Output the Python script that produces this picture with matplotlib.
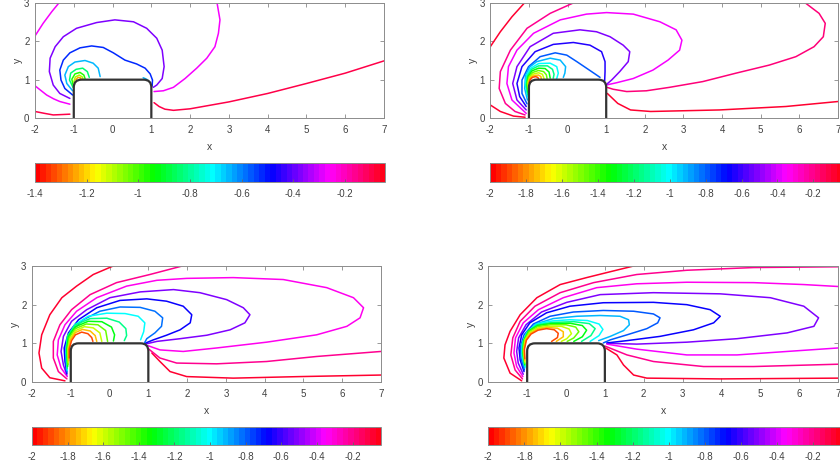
import numpy as np
import matplotlib
matplotlib.use('Agg')
import matplotlib.pyplot as plt
from matplotlib.path import Path
from matplotlib.patches import PathPatch
from matplotlib.colors import Normalize
from matplotlib.cm import ScalarMappable

plt.rcParams['font.family'] = ['Liberation Sans', 'DejaVu Sans']
plt.rcParams['axes.unicode_minus'] = False

# colour range of each snapshot
c_min = [-1.4, -2.0, -2.0, -2.0]
c_max = [-0.045, -0.04, -0.04, -0.04]
cbar_ticks_small = [-1.4, -1.2, -1.0, -0.8, -0.6, -0.4, -0.2]
cbar_ticks_big = [-2.0, -1.8, -1.6, -1.4, -1.2, -1.0, -0.8, -0.6, -0.4, -0.2]

x_ticks = [-2, -1, 0, 1, 2, 3, 4, 5, 6, 7]
y_ticks = [0, 1, 2, 3]

# the block: x from -1 to 1, height 1, rounded top corners
body_half = 1.0
body_top = 1.0
body_r = 0.2

# ---- snapshot 1 (top left), contour levels and traced lines ----
p1_levels = [-0.1, -0.1, -0.26, -0.26, -0.26, -0.38, -0.52, -0.65, -0.65,
             -0.83, -0.96, -1.1, -1.25]
p1_lines = [
    [(-2.0, 0.17), (-1.75, 0.12), (-1.53, 0.08), (-1.3, 0.09), (-1.1, 0.1)],
    [(1.07, 0.4), (1.2, 0.3), (1.35, 0.23), (1.57, 0.2), (2.0, 0.24), (3.0, 0.42),
     (4.0, 0.64), (5.0, 0.9), (6.0, 1.17), (7.0, 1.49)],
    [(-2.0, 2.14), (-1.79, 2.47), (-1.57, 2.77), (-1.36, 3.03)],
    [(-2.0, 0.84), (-1.85, 0.72), (-1.7, 0.6), (-1.52, 0.5), (-1.36, 0.43), (-1.1, 0.36)],
    [(2.69, 3.03), (2.77, 2.56), (2.73, 2.21), (2.64, 1.86), (2.43, 1.56), (2.17, 1.3),
     (1.87, 1.03), (1.57, 0.8), (1.31, 0.71), (1.07, 0.69)],
    [(-1.1, 0.51), (-1.36, 0.64), (-1.53, 0.86), (-1.63, 1.21), (-1.61, 1.56), (-1.48, 1.86),
     (-1.27, 2.12), (-0.93, 2.34), (-0.41, 2.49), (0.06, 2.56), (0.54, 2.51), (0.88, 2.34),
     (1.14, 2.08), (1.28, 1.77), (1.33, 1.34), (1.28, 1.03), (1.14, 0.86), (1.05, 0.8)],
    [(-1.03, 0.6), (-1.23, 0.77), (-1.33, 0.99), (-1.36, 1.25), (-1.27, 1.51), (-1.1, 1.7),
     (-0.84, 1.83), (-0.54, 1.88), (-0.24, 1.84), (0.02, 1.7), (0.32, 1.51), (0.62, 1.41),
     (0.84, 1.3), (0.97, 1.15), (1.03, 0.99), (1.02, 0.83)],
    [(-1.03, 0.71), (-1.18, 0.9), (-1.23, 1.12), (-1.14, 1.34), (-0.97, 1.46), (-0.71, 1.5),
     (-0.5, 1.43), (-0.37, 1.3), (-0.32, 1.08)],
    [(0.79, 1.05), (0.88, 1.01), (0.96, 0.93)],
    [(-1.02, 0.8), (-1.11, 0.99), (-1.08, 1.17), (-0.94, 1.27), (-0.77, 1.3), (-0.65, 1.21),
     (-0.6, 1.06)],
    [(-1.02, 0.87), (-1.05, 1.01), (-0.97, 1.15), (-0.84, 1.19), (-0.74, 1.12), (-0.71, 1.03)],
    [(-1.0, 0.94), (-0.96, 1.07), (-0.86, 1.12), (-0.78, 1.07), (-0.76, 1.01)],
    [(-0.95, 1.0), (-0.89, 1.06), (-0.83, 1.05), (-0.81, 1.01)],
]

# ---- snapshot 2 (top right) ----
p2_levels = [-0.08, -0.08, -0.2, -0.35, -0.5, -0.64, -0.78, -0.9, -1.0,
             -1.15, -1.3, -1.45, -1.6, -1.75, -1.9, -0.17, -0.08]
p2_lines = [
    [(-2.0, 1.86), (-1.74, 2.25), (-1.44, 2.64), (-1.1, 3.02)],
    [(-2.0, 0.34), (-1.74, 0.17), (-1.4, 0.05), (-1.1, 0.02)],
    [(0.19, 3.02), (-0.45, 2.73), (-1.05, 2.34), (-1.48, 1.77), (-1.74, 1.21), (-1.77, 0.77),
     (-1.61, 0.38), (-1.36, 0.17), (-1.1, 0.08)],
    [(-1.07, 0.12), (-1.44, 0.47), (-1.57, 0.9), (-1.53, 1.34), (-1.31, 1.77), (-0.88, 2.21),
     (-0.19, 2.56), (0.49, 2.71), (1.01, 2.75), (1.7, 2.71), (2.39, 2.51), (2.81, 2.3),
     (2.96, 2.03), (2.9, 1.77), (2.6, 1.51), (2.21, 1.25), (1.7, 1.03), (1.27, 0.92),
     (1.0, 0.86)],
    [(-1.07, 0.21), (-1.31, 0.47), (-1.42, 0.9), (-1.31, 1.34), (-0.97, 1.86), (-0.37, 2.21),
     (0.32, 2.3), (0.75, 2.25), (1.1, 2.12), (1.44, 1.9), (1.61, 1.73), (1.57, 1.47),
     (1.35, 1.21), (1.14, 0.99), (1.0, 0.87)],
    [(-1.07, 0.3), (-1.24, 0.56), (-1.31, 0.9), (-1.18, 1.34), (-0.84, 1.73), (-0.37, 1.92),
     (0.15, 1.97), (0.58, 1.9), (0.88, 1.73), (0.97, 1.47), (0.97, 1.21), (0.96, 0.97)],
    [(-1.05, 0.37), (-1.18, 0.64), (-1.18, 0.99), (-1.01, 1.34), (-0.71, 1.6), (-0.32, 1.7),
     (-0.02, 1.64), (0.24, 1.47), (0.49, 1.3), (0.71, 1.15), (0.84, 1.06)],
    [(-1.04, 0.47), (-1.11, 0.77), (-1.09, 1.1), (-0.98, 1.33), (-0.8, 1.47), (-0.45, 1.56),
     (-0.19, 1.51), (-0.05, 1.34), (-0.07, 1.17), (-0.11, 1.06)],
    [(-1.03, 0.56), (-1.09, 0.86), (-1.06, 1.12), (-0.95, 1.3), (-0.75, 1.42), (-0.45, 1.43),
     (-0.28, 1.34), (-0.24, 1.17), (-0.28, 1.03)],
    [(-1.03, 0.61), (-1.07, 0.86), (-1.04, 1.1), (-0.93, 1.27), (-0.75, 1.36), (-0.52, 1.36),
     (-0.39, 1.27), (-0.35, 1.14), (-0.37, 1.04)],
    [(-1.02, 0.67), (-1.05, 0.88), (-1.02, 1.08), (-0.92, 1.23), (-0.75, 1.3), (-0.58, 1.29),
     (-0.48, 1.2), (-0.45, 1.04)],
    [(-1.02, 0.73), (-1.04, 0.9), (-1.0, 1.07), (-0.9, 1.19), (-0.75, 1.24), (-0.62, 1.21),
     (-0.55, 1.13), (-0.53, 1.03)],
    [(-1.01, 0.79), (-1.02, 0.93), (-0.98, 1.06), (-0.88, 1.15), (-0.75, 1.18), (-0.65, 1.14),
     (-0.61, 1.03)],
    [(-1.01, 0.85), (-1.0, 0.97), (-0.95, 1.06), (-0.86, 1.11), (-0.75, 1.12), (-0.69, 1.08),
     (-0.68, 1.02)],
    [(-0.99, 0.92), (-0.97, 1.0), (-0.91, 1.06), (-0.83, 1.08), (-0.77, 1.06), (-0.75, 1.02)],
    [(6.13, 3.02), (6.51, 2.73), (6.67, 2.47), (6.62, 2.12), (6.38, 1.86), (5.91, 1.6),
     (5.22, 1.38), (4.36, 1.17), (3.5, 0.95), (2.64, 0.8), (2.04, 0.71), (1.53, 0.69),
     (1.18, 0.75), (1.02, 0.8)],
    [(1.03, 0.64), (1.3, 0.38), (1.63, 0.21), (2.15, 0.17), (3.93, 0.21), (5.65, 0.3),
     (7.0, 0.43)],
]

# ---- snapshot 3 (bottom left) ----
p3_levels = [-0.08, -0.2, -0.33, -0.5, -0.67, -0.83, -1.0, -1.15, -1.3,
             -1.45, -1.6, -1.75, -1.9, -0.08, -0.2]
p3_lines = [
    [(-1.15, 0.03), (-1.54, 0.11), (-1.75, 0.36), (-1.82, 0.75), (-1.75, 1.22), (-1.54, 1.74),
     (-1.23, 2.18), (-0.85, 2.48), (-0.42, 2.78), (0.14, 3.02)],
    [(-1.1, 0.08), (-1.32, 0.27), (-1.45, 0.62), (-1.45, 1.05), (-1.28, 1.48), (-0.98, 1.87),
     (-0.5, 2.26), (0.18, 2.57), (1.04, 2.78), (1.95, 3.02)],
    [(-1.09, 0.14), (-1.25, 0.36), (-1.35, 0.7), (-1.32, 1.09), (-1.15, 1.48), (-0.85, 1.83),
     (-0.33, 2.18), (0.44, 2.48), (1.22, 2.63), (1.99, 2.68), (3.19, 2.7), (4.48, 2.65),
     (5.6, 2.44), (6.29, 2.18), (6.55, 1.92), (6.46, 1.66), (6.12, 1.44), (5.34, 1.22),
     (4.05, 1.03), (2.76, 0.88), (1.9, 0.79), (1.3, 0.83), (0.99, 0.94)],
    [(-1.1, 0.18), (-1.19, 0.44), (-1.25, 0.79), (-1.19, 1.18), (-0.98, 1.57), (-0.59, 1.87),
     (0.01, 2.18), (0.79, 2.33), (1.65, 2.39), (2.33, 2.31), (3.02, 2.13), (3.45, 1.92),
     (3.62, 1.74), (3.49, 1.53), (3.11, 1.35), (2.51, 1.21), (1.82, 1.12), (1.22, 1.05),
     (0.92, 0.98)],
    [(-1.1, 0.22), (-1.15, 0.53), (-1.17, 0.88), (-1.06, 1.27), (-0.8, 1.61), (-0.33, 1.92),
     (0.27, 2.11), (0.96, 2.15), (1.47, 2.09), (1.9, 1.96), (2.12, 1.74), (2.08, 1.53),
     (1.82, 1.35), (1.47, 1.21), (1.13, 1.09), (0.91, 1.0)],
    [(-1.1, 0.26), (-1.13, 0.62), (-1.12, 0.96), (-0.98, 1.31), (-0.68, 1.61), (-0.25, 1.83),
     (0.27, 1.94), (0.79, 1.93), (1.17, 1.83), (1.37, 1.66), (1.34, 1.44), (1.17, 1.27),
     (0.96, 1.12), (0.9, 1.01)],
    [(-1.09, 0.3), (-1.12, 0.75), (-1.09, 1.15), (-0.9, 1.48), (-0.55, 1.7), (-0.07, 1.78),
     (0.4, 1.77), (0.74, 1.7), (0.91, 1.53), (0.88, 1.3), (0.8, 1.09)],
    [(-1.09, 0.35), (-1.11, 0.8), (-1.08, 1.2), (-0.88, 1.48), (-0.5, 1.64), (-0.07, 1.65),
     (0.25, 1.55), (0.42, 1.38), (0.44, 1.2), (0.38, 1.07)],
    [(-1.08, 0.4), (-1.1, 0.85), (-1.06, 1.18), (-0.88, 1.43), (-0.55, 1.57), (-0.2, 1.56),
     (0.05, 1.42), (0.13, 1.22), (0.1, 1.06)],
    [(-1.07, 0.45), (-1.08, 0.85), (-1.04, 1.15), (-0.88, 1.38), (-0.6, 1.5), (-0.3, 1.48),
     (-0.1, 1.33), (-0.05, 1.05)],
    [(-1.06, 0.5), (-1.07, 0.85), (-1.02, 1.12), (-0.88, 1.33), (-0.65, 1.43), (-0.42, 1.4),
     (-0.25, 1.27), (-0.2, 1.05)],
    [(-1.05, 0.55), (-1.06, 0.85), (-1.0, 1.1), (-0.88, 1.28), (-0.7, 1.36), (-0.5, 1.32),
     (-0.37, 1.2), (-0.33, 1.05)],
    [(-1.04, 0.62), (-1.04, 0.85), (-0.98, 1.07), (-0.88, 1.22), (-0.72, 1.29), (-0.56, 1.25),
     (-0.46, 1.15), (-0.43, 1.05)],
    [(1.09, 0.75), (1.3, 0.53), (1.56, 0.27), (1.99, 0.14), (3.19, 0.1), (4.91, 0.14),
     (7.0, 0.18)],
    [(1.0, 0.86), (1.3, 0.62), (1.73, 0.49), (2.76, 0.47), (4.05, 0.53), (5.34, 0.66),
     (7.0, 0.79)],
]

# ---- snapshot 4 (bottom right) ----
p4_levels = [-0.08, -0.2, -0.33, -0.52, -0.66, -0.78, -0.9, -1.02, -1.15,
             -1.3, -1.45, -1.6, -1.75, -1.9, -0.36, -0.2, -0.08]
p4_lines = [
    [(-1.14, 0.03), (-1.44, 0.23), (-1.6, 0.62), (-1.57, 0.96), (-1.44, 1.31), (-1.18, 1.74),
     (-0.75, 2.18), (-0.15, 2.52), (0.53, 2.7), (1.05, 2.83), (1.82, 3.02)],
    [(-1.12, 0.08), (-1.31, 0.31), (-1.42, 0.7), (-1.37, 1.14), (-1.18, 1.57), (-0.8, 1.96),
     (-0.15, 2.31), (0.71, 2.57), (1.82, 2.78), (3.11, 2.89), (4.83, 2.96), (7.0, 2.98)],
    [(-1.11, 0.14), (-1.27, 0.4), (-1.34, 0.75), (-1.3, 1.14), (-1.1, 1.53), (-0.71, 1.87),
     (-0.07, 2.18), (0.79, 2.44), (1.82, 2.54), (3.11, 2.58), (4.83, 2.57), (6.12, 2.52),
     (7.0, 2.47)],
    [(-1.1, 0.2), (-1.23, 0.49), (-1.27, 0.79), (-1.22, 1.14), (-1.03, 1.48), (-0.63, 1.81),
     (0.02, 2.06), (0.88, 2.26), (2.25, 2.31), (3.97, 2.28), (5.26, 2.18), (6.12, 1.96),
     (6.5, 1.66), (6.38, 1.44), (5.69, 1.27), (4.4, 1.12), (3.11, 1.03), (1.82, 0.98),
     (1.05, 1.0)],
    [(-1.08, 0.27), (-1.18, 0.57), (-1.21, 0.88), (-1.14, 1.22), (-0.93, 1.53), (-0.5, 1.79),
     (0.1, 1.96), (0.96, 2.05), (2.25, 2.06), (3.11, 2.0), (3.71, 1.87), (3.97, 1.7),
     (3.8, 1.53), (3.28, 1.35), (2.42, 1.18), (1.57, 1.07), (1.05, 1.01)],
    [(-1.07, 0.31), (-1.16, 0.62), (-1.17, 0.92), (-1.08, 1.22), (-0.84, 1.5), (-0.41, 1.7),
     (0.19, 1.81), (0.96, 1.85), (1.74, 1.83), (2.25, 1.76), (2.42, 1.66), (2.36, 1.53),
     (2.08, 1.38), (1.57, 1.22), (1.14, 1.09), (0.96, 1.01)],
    [(-1.06, 0.36), (-1.14, 0.66), (-1.14, 0.96), (-1.03, 1.24), (-0.78, 1.5), (-0.33, 1.64),
     (0.28, 1.7), (0.88, 1.72), (1.39, 1.7), (1.61, 1.61), (1.63, 1.48), (1.48, 1.33),
     (1.14, 1.18), (0.84, 1.07)],
    [(-1.05, 0.39), (-1.13, 0.7), (-1.12, 1.01), (-1.0, 1.29), (-0.75, 1.5), (-0.35, 1.58),
     (0.1, 1.61), (0.55, 1.59), (0.85, 1.5), (0.95, 1.36), (0.85, 1.2), (0.62, 1.05)],
    [(-1.06, 0.42), (-1.12, 0.73), (-1.1, 1.04), (-0.98, 1.31), (-0.74, 1.48), (-0.36, 1.54),
     (0.2, 1.56), (0.6, 1.51), (0.75, 1.38), (0.64, 1.2), (0.4, 1.05)],
    [(-1.06, 0.45), (-1.11, 0.76), (-1.09, 1.07), (-0.96, 1.32), (-0.73, 1.46), (-0.38, 1.51),
     (0.1, 1.52), (0.42, 1.46), (0.53, 1.34), (0.42, 1.17), (0.2, 1.05)],
    [(-1.06, 0.48), (-1.1, 0.79), (-1.07, 1.08), (-0.95, 1.3), (-0.73, 1.43), (-0.4, 1.48),
     (0.0, 1.48), (0.25, 1.42), (0.33, 1.3), (0.2, 1.14), (0.03, 1.05)],
    [(-1.06, 0.52), (-1.09, 0.82), (-1.05, 1.09), (-0.93, 1.28), (-0.72, 1.4), (-0.45, 1.44),
     (-0.12, 1.44), (0.08, 1.37), (0.14, 1.25), (0.02, 1.12), (-0.12, 1.05)],
    [(-1.06, 0.56), (-1.08, 0.84), (-1.03, 1.09), (-0.91, 1.26), (-0.72, 1.37), (-0.48, 1.41),
     (-0.22, 1.39), (-0.07, 1.3), (-0.07, 1.17), (-0.25, 1.05)],
    [(-1.06, 0.6), (-1.07, 0.85), (-1.02, 1.08), (-0.9, 1.24), (-0.72, 1.34), (-0.5, 1.38),
     (-0.3, 1.35), (-0.2, 1.26), (-0.22, 1.15), (-0.37, 1.05)],
    [(1.05, 0.98), (1.82, 0.85), (3.11, 0.7), (4.4, 0.7), (5.69, 0.79), (7.0, 0.88)],
    [(1.0, 0.93), (1.57, 0.7), (2.25, 0.53), (3.54, 0.4), (4.83, 0.4), (7.0, 0.46)],
    [(1.02, 0.88), (1.31, 0.7), (1.48, 0.44), (1.74, 0.18), (2.08, 0.1), (3.97, 0.08),
     (7.0, 0.1)],
]

W, H = 840, 469


def rect(left, right, top, bottom):
    # pixel box -> figure fraction
    return [left / W, 1 - bottom / H, (right - left) / W, (bottom - top) / H]


def body_paths():
    a, t, r = body_half, body_top, body_r
    verts = [(-a, 0), (-a, t - r), (-a, t), (-a + r, t), (a - r, t), (a, t), (a, t - r), (a, 0)]
    codes = [Path.MOVETO, Path.LINETO, Path.CURVE3, Path.CURVE3,
             Path.LINETO, Path.CURVE3, Path.CURVE3, Path.LINETO]
    outline = Path(verts, codes)
    fill = Path(verts + [(-a, 0)], codes + [Path.CLOSEPOLY])
    return outline, fill


def draw_panel(ax, cax, lines, levels, vmin, vmax, ticks):
    cmap = plt.get_cmap('hsv', 64)
    norm = Normalize(vmin, vmax)
    for pts, lev in zip(lines, levels):
        xs = [p[0] for p in pts]
        ys = [p[1] for p in pts]
        ax.plot(xs, ys, color=cmap(norm(lev)), lw=1.1, solid_capstyle='round',
                solid_joinstyle='round', zorder=2)

    outline, fill = body_paths()
    ax.add_patch(PathPatch(fill, facecolor='white', edgecolor='none', zorder=3))
    ax.add_patch(PathPatch(outline, facecolor='none', edgecolor='#333333', lw=1.6, zorder=4))

    ax.set_xlim(-2, 7)
    ax.set_ylim(0, 3)
    ax.set_xticks(x_ticks)
    ax.set_yticks(y_ticks)
    ax.tick_params(direction='in', length=3, width=0.6, color='#888888', labelsize=7,
                   labelcolor='#404040', top=True, right=True)
    ax.tick_params(axis='x', pad=5)
    ax.tick_params(axis='y', pad=4)
    for s in ax.spines.values():
        s.set_color('#8c8c8c')
        s.set_linewidth(0.7)
    ax.set_xlabel('x', fontsize=7.5, color='#404040', labelpad=5)
    ax.set_ylabel('y', fontsize=7.5, color='#404040', labelpad=1)

    cb = plt.colorbar(ScalarMappable(norm=norm, cmap=cmap), cax=cax, orientation='horizontal')
    cb.set_ticks(ticks)
    cb.set_ticklabels(['%g' % t for t in ticks])
    cb.outline.set_edgecolor('#8c8c8c')
    cb.outline.set_linewidth(0.7)
    cax.tick_params(direction='in', length=2.5, width=0.6, color='#666666', labelsize=7,
                    labelcolor='#404040', pad=5)


fig = plt.figure(figsize=(8.4, 4.69), dpi=100)

axes_boxes = [rect(35, 384, 3, 118), rect(490.3, 838, 3, 118),
              rect(32, 381, 266, 382), rect(488.3, 838, 266, 382)]
cbar_boxes = [rect(35, 385, 163, 182), rect(490.3, 842, 163, 182),
              rect(32, 381, 427, 445), rect(488.3, 842, 427, 445)]

all_lines = [p1_lines, p2_lines, p3_lines, p4_lines]
all_levels = [p1_levels, p2_levels, p3_levels, p4_levels]
all_ticks = [cbar_ticks_small, cbar_ticks_big, cbar_ticks_big, cbar_ticks_big]

for i in range(4):
    ax = fig.add_axes(axes_boxes[i])
    cax = fig.add_axes(cbar_boxes[i])
    draw_panel(ax, cax, all_lines[i], all_levels[i], c_min[i], c_max[i], all_ticks[i])

fig.savefig('out.png', dpi=100)
